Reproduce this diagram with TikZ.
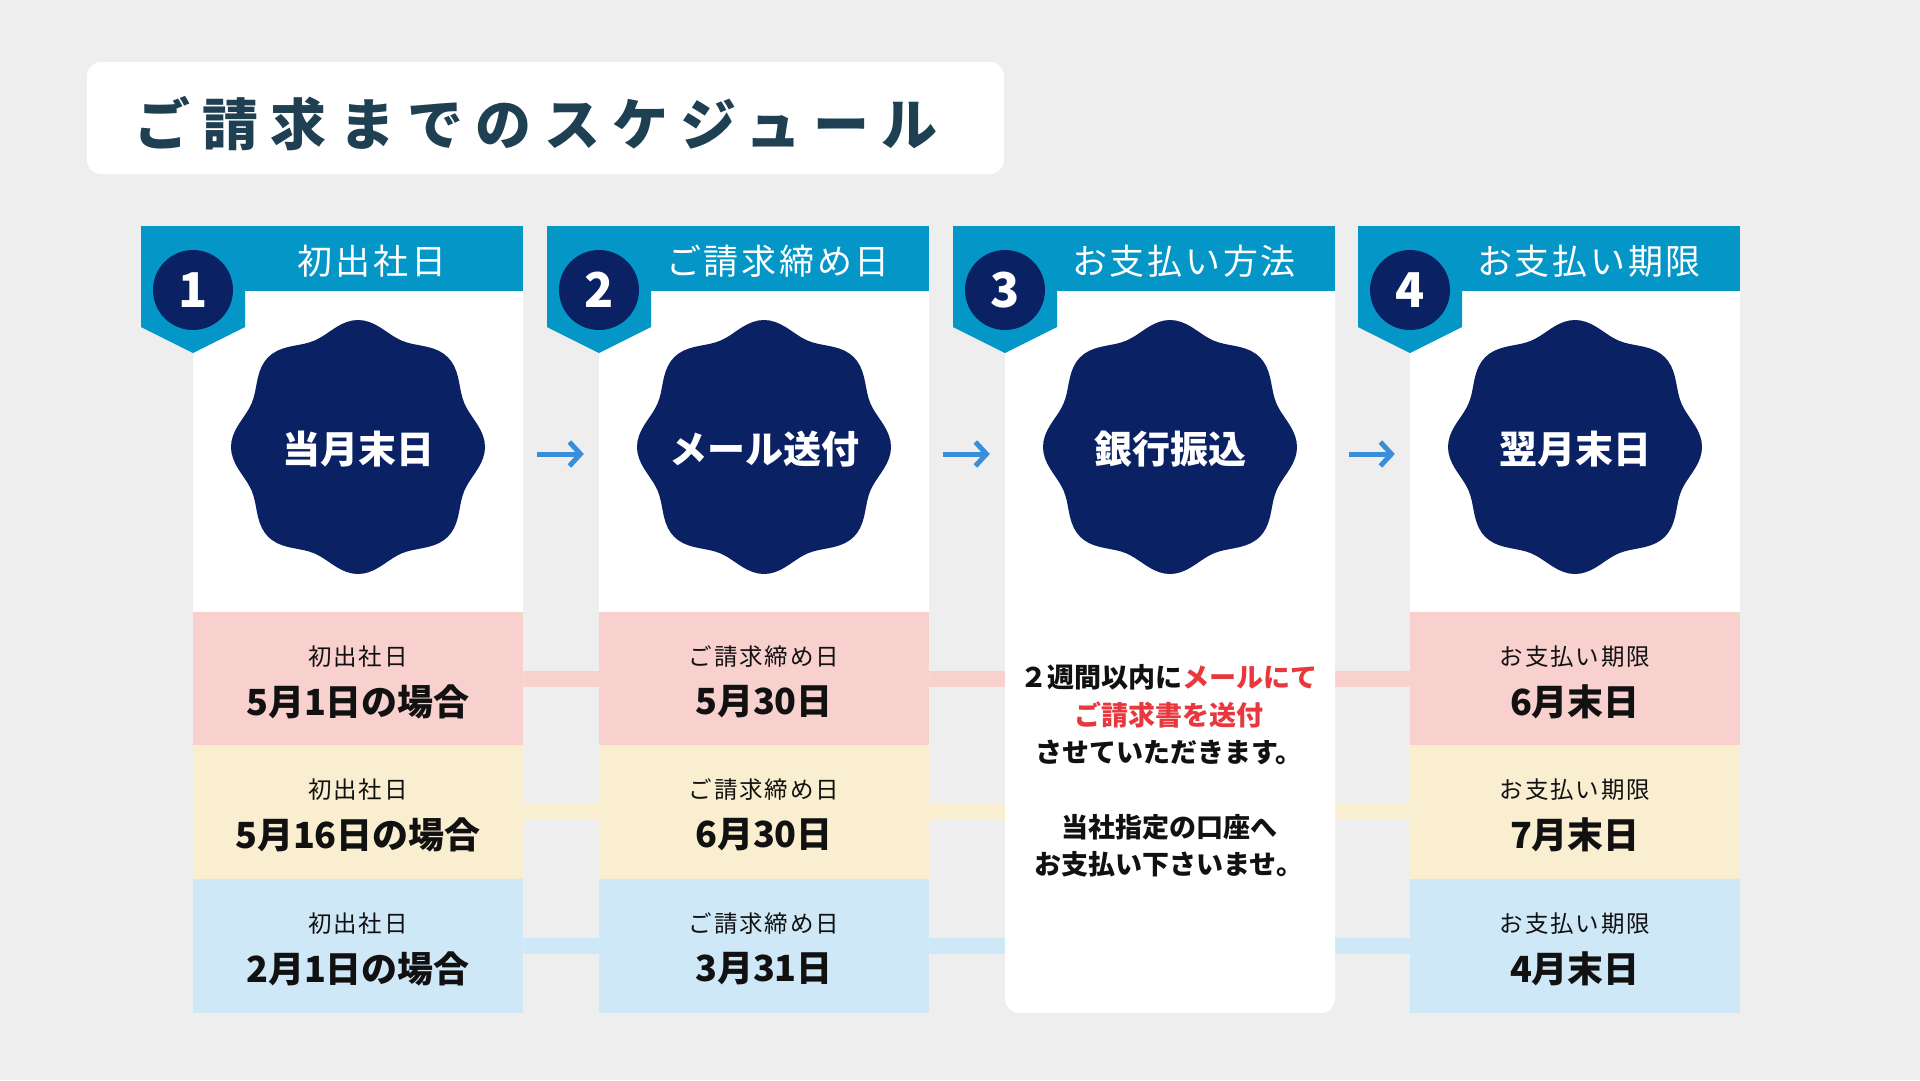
\documentclass[tikz,border=0pt]{standalone}
\usepackage{fontspec}
\setmainfont{Noto Sans CJK JP}
\newfontfamily\titlefont{Noto Sans CJK JP}[LetterSpace=22]
\newfontfamily\spacedfont{Noto Sans CJK JP}[LetterSpace=8]
\usetikzlibrary{
    arrows.meta,
    backgrounds,
    positioning
}

\definecolor{bgc}{HTML}{EEEEEE}
\definecolor{titlec}{HTML}{1E4052}
\definecolor{headc}{HTML}{0596C8}
\definecolor{navyc}{HTML}{0A2163}
\definecolor{arrowc}{HTML}{3A8DD8}
\definecolor{pinkc}{HTML}{F8D1CF}
\definecolor{yelc}{HTML}{FAEED0}
\definecolor{bluec}{HTML}{CFE8F8}
\definecolor{redc}{HTML}{E8383D}
\definecolor{inkc}{HTML}{111111}

\newcommand{\fs}[1]{\fontsize{#1}{#1}\selectfont}

\tikzset{
    headtxt/.style={text=white, font=\spacedfont\fs{35}},
    numdot/.style={circle, fill=navyc, minimum size=80pt, inner sep=0pt, text=white, font=\bfseries\fs{48}},
    badgetxt/.style={circle, minimum size=252pt, inner sep=0pt, text=white, font=\bfseries\fs{38}},
    cell/.style={fill=#1, minimum width=330pt, minimum height=134pt, inner sep=0pt},
    subtxt/.style={text=inkc, font=\spacedfont\fs{23.5}},
    maintxt/.style={text=inkc, font=\bfseries\fs{36}},
    band/.style={draw=#1, line width=16pt},
    flowarrow/.style={draw=arrowc, line width=5pt, -{Straight Barb[length=11pt,width=24pt]}, shorten <=53pt, shorten >=54pt}
}

\begin{document}
\begin{tikzpicture}[x=1pt, y=-1pt]
                                \begin{scope}[on background layer]
                                \fill[bgc] (0,0) rectangle (1920,1080);
                                \end{scope}
                                \useasboundingbox (0,0) rectangle (1920,1080);
                                % title
                                \fill[white, rounded corners=14pt] (87,62) rectangle (1004,174);
                                \node[anchor=west, inner sep=0pt, text=titlec, font=\titlefont\bfseries\fs{56}] (title) at (134,124) {ご請求までのスケジュール};
                                % cards
                                \foreach \i/\x/\head/\badge in {1/141/初出社日/当月末日, 2/547/ご請求締め日/メール送付, 3/953/お支払い方法/銀行振込, 4/1358/お支払い期限/翌月末日}{
                                    \fill[white, rounded corners=14pt] ({\x+52},260) rectangle ({\x+382},1013);
                                    \fill[headc] (\x,226) rectangle ({\x+382},291);
                                    \fill[headc] (\x,226) -- ({\x+104},226) -- ({\x+104},327) -- ({\x+52},353) -- (\x,327) -- cycle;
                                    \node[numdot] (n\i) at ({\x+52},290) {\i};
                                    \node[headtxt] (h\i) at ({\x+231},261) {\head};
                                    \fill[navyc, shift={({\x+217},447)}] plot[domain=0:357.5, samples=144, variable=\t] ({(121+6*cos(8*\t))*cos(\t)}, {(121+6*cos(8*\t))*sin(\t)}) -- cycle;
                                    \node[badgetxt] (s\i) at ({\x+217},449) {\badge};
                                }
                                \foreach \a/\b in {1/2, 2/3, 3/4}
                                    \draw[flowarrow] ([yshift=-5pt]s\a.east) -- ([yshift=-5pt]s\b.west);
                                % rows
                                \foreach \i/\x/\sub/\lineA/\lineB/\lineC in {1/141/初出社日/5月1日の場合/5月16日の場合/2月1日の場合, 2/547/ご請求締め日/5月30日/6月30日/3月31日, 4/1358/お支払い期限/6月末日/7月末日/4月末日}{
                                    \foreach \r/\y/\fillc/\main in {1/678.5/pinkc/\lineA, 2/811.5/yelc/\lineB, 3/945.5/bluec/\lineC}{
                                        \node[cell=\fillc] (c\i-\r) at ({\x+217},\y) {};
                                        \node[subtxt] (c\i-\r-s) at ([yshift=21.5pt]c\i-\r.center) {\sub};
                                        \node[maintxt] (c\i-\r-m) at ([yshift=-23.5pt]c\i-\r.center) {\main};
                                    }
                                }
                                \begin{scope}[on background layer]
                                \foreach \r/\fillc in {1/pinkc, 2/yelc, 3/bluec}
                                    \draw[band=\fillc] (c1-\r) -- (c4-\r);
                                \end{scope}
                                \node[align=center, text=inkc, font=\bfseries\fontsize{27}{37.5}\selectfont] (note) at (1169,771) {２週間以内に\textcolor{redc}{メールにて}\\\textcolor{redc}{ご請求書を送付}\\させていただきます。\\[37pt]当社指定の口座へ\\お支払い下さいませ。};
                            \end{tikzpicture}
\end{document}
